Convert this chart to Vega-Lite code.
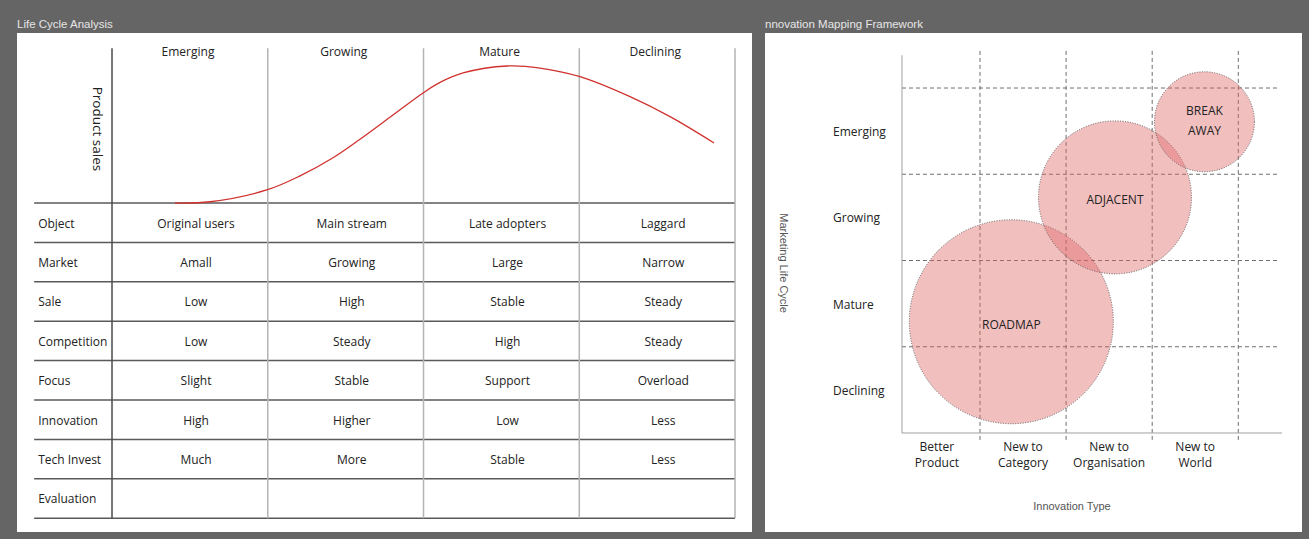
{
  "$schema": "https://vega.github.io/schema/vega-lite/v6.json",
  "background": "#656565",
  "padding": {"left": 17, "top": 18, "right": 7, "bottom": 7},
  "spacing": 13,
  "config": {
    "view": {"stroke": null, "fill": "white"},
    "font": "Open Sans",
    "title": {"anchor": "start", "font": "Liberation Sans", "fontSize": 11.5, "fontWeight": "normal", "color": "#e6e6e6", "offset": 3}
  },
  "datasets": {
    "stages": [
      {"col": 0, "stage": "Emerging"},
      {"col": 1, "stage": "Growing"},
      {"col": 2, "stage": "Mature"},
      {"col": 3, "stage": "Declining"}
    ],
    "dividers": [{"b": 0}, {"b": 1}, {"b": 2}, {"b": 3}, {"b": 4}],
    "rowlines": [{"r": 0}, {"r": 1}, {"r": 2}, {"r": 3}, {"r": 4}, {"r": 5}, {"r": 6}, {"r": 7}, {"r": 8}],
    "attrs": [
      {"row": 0, "attr": "Object"},
      {"row": 1, "attr": "Market"},
      {"row": 2, "attr": "Sale"},
      {"row": 3, "attr": "Competition"},
      {"row": 4, "attr": "Focus"},
      {"row": 5, "attr": "Innovation"},
      {"row": 6, "attr": "Tech Invest"},
      {"row": 7, "attr": "Evaluation"}
    ],
    "cells": [
      {"row": 0, "col": 0, "value": "Original users"},
      {"row": 0, "col": 1, "value": "Main stream"},
      {"row": 0, "col": 2, "value": "Late adopters"},
      {"row": 0, "col": 3, "value": "Laggard"},
      {"row": 1, "col": 0, "value": "Amall"},
      {"row": 1, "col": 1, "value": "Growing"},
      {"row": 1, "col": 2, "value": "Large"},
      {"row": 1, "col": 3, "value": "Narrow"},
      {"row": 2, "col": 0, "value": "Low"},
      {"row": 2, "col": 1, "value": "High"},
      {"row": 2, "col": 2, "value": "Stable"},
      {"row": 2, "col": 3, "value": "Steady"},
      {"row": 3, "col": 0, "value": "Low"},
      {"row": 3, "col": 1, "value": "Steady"},
      {"row": 3, "col": 2, "value": "High"},
      {"row": 3, "col": 3, "value": "Steady"},
      {"row": 4, "col": 0, "value": "Slight"},
      {"row": 4, "col": 1, "value": "Stable"},
      {"row": 4, "col": 2, "value": "Support"},
      {"row": 4, "col": 3, "value": "Overload"},
      {"row": 5, "col": 0, "value": "High"},
      {"row": 5, "col": 1, "value": "Higher"},
      {"row": 5, "col": 2, "value": "Low"},
      {"row": 5, "col": 3, "value": "Less"},
      {"row": 6, "col": 0, "value": "Much"},
      {"row": 6, "col": 1, "value": "More"},
      {"row": 6, "col": 2, "value": "Stable"},
      {"row": 6, "col": 3, "value": "Less"}
    ],
    "sales": [
      {"t": 0.405, "sales": 0},
      {"t": 0.629, "sales": 0.9},
      {"t": 0.993, "sales": 9.5},
      {"t": 1.207, "sales": 19.8},
      {"t": 1.419, "sales": 33.0},
      {"t": 1.592, "sales": 46.5},
      {"t": 1.804, "sales": 64.2},
      {"t": 1.997, "sales": 80.3},
      {"t": 2.106, "sales": 88.0},
      {"t": 2.254, "sales": 94.9},
      {"t": 2.536, "sales": 100},
      {"t": 2.748, "sales": 98.5},
      {"t": 3.005, "sales": 92.2},
      {"t": 3.326, "sales": 77.6},
      {"t": 3.583, "sales": 63.0},
      {"t": 3.865, "sales": 43.8}
    ],
    "grid": [{"k": 1}, {"k": 2}, {"k": 3}, {"k": 4}],
    "lifecycle": [
      {"stage": "Emerging", "rank": 4},
      {"stage": "Growing", "rank": 3},
      {"stage": "Mature", "rank": 2},
      {"stage": "Declining", "rank": 1}
    ],
    "innovation": [
      {"type": "Better\nProduct", "col": 0},
      {"type": "New to\nCategory", "col": 1},
      {"type": "New to\nOrganisation", "col": 2},
      {"type": "New to\nWorld", "col": 3}
    ],
    "bubbles": [
      {"name": "ROADMAP", "innovation": 1.364, "lifecycle": 1.29, "reach": 1.2},
      {"name": "ADJACENT", "innovation": 2.568, "lifecycle": 2.732, "reach": 0.9},
      {"name": "BREAK\nAWAY", "innovation": 3.607, "lifecycle": 3.609, "reach": 0.588}
    ]
  },
  "hconcat": [
    {
      "title": {"text": "Life Cycle Analysis"},
      "width": 735,
      "height": 499,
      "layer": [
        {
          "layer": [
            {
              "data": {"name": "rowlines"},
              "mark": {"type": "rule", "color": "#5a5a5a", "strokeWidth": 1.5},
              "encoding": {
                "y": {"field": "r", "type": "quantitative", "scale": {"domain": [-4.315, 8.35], "reverse": true, "nice": false, "zero": false}, "axis": null},
                "x": {"datum": -0.5, "type": "quantitative", "scale": {"domain": [-0.61, 4.109], "nice": false, "zero": false}, "axis": null},
                "x2": {"datum": 4}
              }
            },
            {
              "data": {"name": "dividers"},
              "mark": {"type": "rule", "strokeWidth": 1.5},
              "encoding": {
                "x": {"field": "b", "type": "quantitative"},
                "y": {"datum": -3.93, "type": "quantitative"},
                "y2": {"datum": 8},
                "color": {"condition": {"test": "datum.b == 0", "value": "#4a4a4a"}, "value": "#b4b4b4"}
              }
            },
            {
              "data": {"name": "stages"},
              "mark": {"type": "text", "fontSize": 12, "color": "#222", "dx": 76, "baseline": "middle"},
              "encoding": {
                "x": {"field": "col", "type": "quantitative"},
                "y": {"datum": -3.84, "type": "quantitative"},
                "text": {"field": "stage"}
              }
            },
            {
              "data": {"name": "attrs"},
              "mark": {"type": "text", "fontSize": 12, "color": "#222", "align": "left", "dx": 4, "dy": 20.5, "baseline": "middle"},
              "encoding": {
                "x": {"datum": -0.5, "type": "quantitative"},
                "y": {"field": "row", "type": "quantitative"},
                "text": {"field": "attr"}
              }
            },
            {
              "data": {"name": "cells"},
              "mark": {"type": "text", "fontSize": 12, "color": "#222", "dx": 84, "dy": 20.5, "baseline": "middle"},
              "encoding": {
                "x": {"field": "col", "type": "quantitative"},
                "y": {"field": "row", "type": "quantitative"},
                "text": {"field": "value"}
              }
            },
            {
              "data": {"values": [{"label": "Product sales"}]},
              "mark": {"type": "text", "fontSize": 13.5, "color": "#222", "angle": 90, "baseline": "middle"},
              "encoding": {
                "x": {"datum": -0.096, "type": "quantitative"},
                "y": {"datum": -1.88, "type": "quantitative"},
                "text": {"field": "label"}
              }
            }
          ]
        },
        {
          "data": {"name": "sales"},
          "mark": {"type": "line", "color": "#d0312d", "strokeWidth": 1.3, "interpolate": "catmull-rom"},
          "encoding": {
            "x": {"field": "t", "type": "quantitative"},
            "y": {"field": "sales", "type": "quantitative", "scale": {"domain": [-240.15, 124.09], "nice": false, "zero": false}, "axis": null}
          }
        }
      ],
      "resolve": {"scale": {"y": "independent"}}
    },
    {
      "title": {"text": "nnovation Mapping Framework"},
      "width": 537,
      "height": 499,
      "layer": [
        {
          "data": {"name": "grid"},
          "mark": {"type": "rule", "color": "#6e6e6e", "strokeWidth": 1, "strokeDash": [4, 3]},
          "encoding": {
            "y": {"field": "k", "type": "quantitative", "scale": {"domain": [-1.148, 4.638], "nice": false, "zero": false}, "axis": null},
            "x": {"datum": 0.094, "type": "quantitative", "scale": {"domain": [-1.497, 4.74], "nice": false, "zero": false}, "axis": null},
            "x2": {"datum": 4.461}
          }
        },
        {
          "data": {"name": "grid"},
          "mark": {"type": "rule", "color": "#6e6e6e", "strokeWidth": 1, "strokeDash": [4, 3]},
          "encoding": {
            "x": {"field": "k", "type": "quantitative"},
            "y": {"datum": -0.08, "type": "quantitative"},
            "y2": {"datum": 4.44}
          }
        },
        {
          "data": {"values": [{"axis": "y"}]},
          "mark": {"type": "rule", "color": "#a0a0a0", "strokeWidth": 1},
          "encoding": {
            "x": {"datum": 0.094, "type": "quantitative"},
            "y": {"datum": 0, "type": "quantitative"},
            "y2": {"datum": 4.38}
          }
        },
        {
          "data": {"values": [{"axis": "x"}]},
          "mark": {"type": "rule", "color": "#a0a0a0", "strokeWidth": 1},
          "encoding": {
            "y": {"datum": 0, "type": "quantitative"},
            "x": {"datum": 0.094, "type": "quantitative"},
            "x2": {"datum": 4.508}
          }
        },
        {
          "data": {"name": "bubbles"},
          "mark": {"type": "point", "shape": "circle", "filled": true, "fill": "#e06666", "fillOpacity": 0.42, "opacity": 1, "stroke": "#555", "strokeWidth": 1, "strokeDash": [1, 1.5], "strokeOpacity": 0.9},
          "encoding": {
            "x": {"field": "innovation", "type": "quantitative"},
            "y": {"field": "lifecycle", "type": "quantitative"},
            "size": {"field": "reach", "type": "quantitative", "scale": {"type": "pow", "exponent": 2, "domain": [0, 1.2], "range": [0, 41616]}, "legend": null}
          }
        },
        {
          "data": {"name": "bubbles"},
          "transform": [{"filter": "indexof(datum.name, '\\n') < 0"}],
          "mark": {"type": "text", "fontSize": 12, "color": "#222", "dy": 3, "baseline": "middle"},
          "encoding": {
            "x": {"field": "innovation", "type": "quantitative"},
            "y": {"field": "lifecycle", "type": "quantitative"},
            "text": {"field": "name"}
          }
        },
        {
          "data": {"name": "bubbles"},
          "transform": [{"filter": "indexof(datum.name, '\\n') >= 0"}],
          "mark": {"type": "text", "fontSize": 12, "color": "#222", "lineBreak": "\n", "lineHeight": 20, "dy": -11, "baseline": "middle"},
          "encoding": {
            "x": {"field": "innovation", "type": "quantitative"},
            "y": {"field": "lifecycle", "type": "quantitative"},
            "text": {"field": "name"}
          }
        },
        {
          "data": {"name": "lifecycle"},
          "mark": {"type": "text", "fontSize": 12, "color": "#222", "align": "left", "dy": 44, "baseline": "middle"},
          "encoding": {
            "x": {"datum": -0.707, "type": "quantitative"},
            "y": {"field": "rank", "type": "quantitative"},
            "text": {"field": "stage"}
          }
        },
        {
          "data": {"name": "innovation"},
          "mark": {"type": "text", "fontSize": 12, "color": "#222", "lineBreak": "\n", "lineHeight": 16, "dx": 43, "dy": 9, "baseline": "top"},
          "encoding": {
            "x": {"field": "col", "type": "quantitative"},
            "y": {"datum": 0, "type": "quantitative"},
            "text": {"field": "type"}
          }
        },
        {
          "data": {"values": [{"label": "Innovation Type"}]},
          "mark": {"type": "text", "fontSize": 11, "font": "Liberation Sans", "color": "#555", "baseline": "middle"},
          "encoding": {
            "x": {"datum": 2.068, "type": "quantitative"},
            "y": {"datum": -0.855, "type": "quantitative"},
            "text": {"field": "label"}
          }
        },
        {
          "data": {"values": [{"label": "Marketing Life Cycle"}]},
          "mark": {"type": "text", "fontSize": 11, "font": "Liberation Sans", "color": "#555", "angle": 90, "baseline": "middle"},
          "encoding": {
            "x": {"datum": -1.288, "type": "quantitative"},
            "y": {"datum": 1.97, "type": "quantitative"},
            "text": {"field": "label"}
          }
        }
      ]
    }
  ]
}
